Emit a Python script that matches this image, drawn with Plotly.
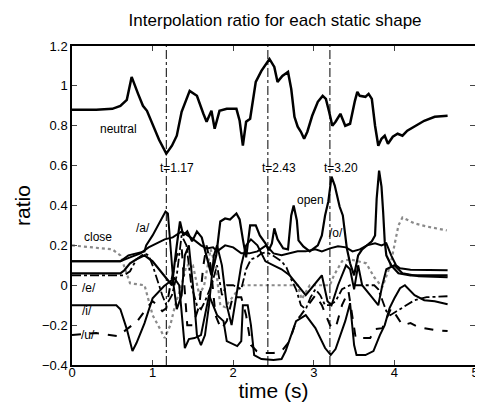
import plotly.graph_objects as go

# ---- data ----
t_neutral = [0, 0.3, 0.5, 0.6, 0.68, 0.74, 0.82, 0.88, 0.93, 1.0, 1.08, 1.17, 1.24, 1.3, 1.36, 1.46, 1.55, 1.63,
             1.67, 1.73, 1.77, 1.83, 1.92, 2.04, 2.08, 2.12, 2.16, 2.21, 2.28, 2.35, 2.45, 2.51, 2.55, 2.61, 2.68,
             2.72, 2.76, 2.8, 2.84, 2.88, 2.92, 2.98, 3.05, 3.11, 3.15, 3.19, 3.23, 3.27, 3.33, 3.39, 3.45, 3.51,
             3.54, 3.57, 3.64, 3.68, 3.72, 3.76, 3.8, 3.84, 3.88, 3.92, 3.98, 4.04, 4.1, 4.16, 4.27, 4.37, 4.5, 4.66]
v_neutral = [0.88, 0.88, 0.885, 0.90, 0.93, 1.045, 0.96, 0.9, 0.875, 0.81, 0.73, 0.66, 0.70, 0.75, 0.87, 0.975, 0.95,
             0.86, 0.82, 0.875, 0.785, 0.875, 0.885, 0.885, 0.825, 0.70, 0.82, 0.835, 1.02, 1.075, 1.135, 1.095,
             1.02, 1.05, 1.07, 0.985, 0.845, 0.795, 0.77, 0.735, 0.77, 0.85, 0.92, 0.95, 0.935, 0.87, 0.80, 0.82,
             0.86, 0.80, 0.81, 0.925, 0.97, 0.95, 0.945, 0.96, 0.935, 0.80, 0.70, 0.735, 0.75, 0.71, 0.745, 0.76,
             0.75, 0.775, 0.80, 0.825, 0.845, 0.85]

t_open = [0, 0.6, 0.65, 0.72, 0.8, 0.9, 1.0, 1.1, 1.24, 1.3, 1.34, 1.38, 1.43, 1.49, 1.55, 1.61, 1.67, 1.73, 1.79,
          1.84, 1.9, 1.96, 2.04, 2.08, 2.12, 2.16, 2.21, 2.28, 2.33, 2.4, 2.44, 2.48, 2.51, 2.55, 2.62, 2.68, 2.72,
          2.75, 2.79, 2.81, 2.87, 2.95, 3.05, 3.1, 3.14, 3.18, 3.22, 3.26, 3.32, 3.36, 3.41, 3.45, 3.5, 3.55, 3.6,
          3.66, 3.72, 3.76, 3.78, 3.81, 3.84, 3.86, 3.88, 3.9, 3.96, 4.05, 4.2, 4.66]
v_open = [0.06, 0.06, 0.075, 0.11, 0.13, 0.15, 0.12, 0.07, 0.0, 0.2, 0.32, 0.25, 0.27, 0.22, 0.27, 0.24, 0.15, 0.05,
          0.15, 0.32, 0.335, 0.33, 0.36, 0.33, 0.23, 0.14, 0.3, 0.3, 0.25, 0.21, 0.175, 0.21, 0.285, 0.23, 0.185,
          0.18, 0.35, 0.40, 0.325, 0.225, 0.195, 0.17, 0.2, 0.25, 0.35, 0.42, 0.545, 0.5, 0.395, 0.35, 0.185, 0.11,
          0.05, 0.15, 0.18, 0.2, 0.22, 0.25, 0.435, 0.575, 0.495, 0.37, 0.22, 0.15, 0.1, 0.06, 0.05, 0.05]

t_close = [0, 0.5, 0.6, 0.68, 0.72, 0.9, 1.0, 1.1, 1.15, 1.22, 1.28, 1.36, 1.42, 1.5, 1.58, 1.64, 1.72, 1.78, 1.84,
           1.9, 2.1, 2.8, 2.85, 2.95, 3.2, 3.25, 3.35, 3.45, 3.55, 3.65, 3.75, 3.85, 3.95, 4.05, 4.1, 4.25, 4.4, 4.65]
v_close = [0.2, 0.18, 0.15, 0.05, 0.01, 0.0, -0.15, -0.225, -0.265, -0.2, -0.1, 0.0, 0.1, 0.1, -0.05, 0.0, 0.18, 0.1,
           -0.1, -0.11, 0.0, 0.0, -0.07, 0.0, 0.0, 0.05, 0.12, 0.13, 0.12, 0.11, 0.04, -0.01, 0.1, 0.3, 0.34, 0.31,
           0.295, 0.275]

t_a = [0, 0.6, 0.7, 0.8, 0.9, 0.92, 1.0, 1.08, 1.16, 1.19, 1.22, 1.26, 1.3, 1.36, 1.4, 1.45, 1.5, 1.55, 1.6, 1.65,
       1.7, 1.76, 1.8, 1.86, 1.92, 1.98, 2.04, 2.1, 2.16, 2.22, 2.3, 2.4, 2.5, 2.6, 2.7, 2.8, 2.9, 3.0, 3.1, 3.17,
       3.22, 3.3, 3.4, 3.45, 3.5, 3.55, 3.6, 3.7, 3.8, 3.85, 3.9, 4.0, 4.1, 4.3, 4.66]
v_a = [0.12, 0.12, 0.15, 0.16, 0.17, 0.2, 0.25, 0.31, 0.37, 0.36, 0.2, 0.0, -0.12, -0.05, 0.15, 0.2, 0.0, -0.25,
       -0.3, -0.25, -0.1, 0.15, 0.2, 0.1, -0.1, -0.2, -0.05, 0.1, 0.2, 0.23, 0.2, 0.12, 0.1, 0.08, 0.05, 0.0, -0.05,
       0.0, 0.05, -0.08, -0.1, 0.0, 0.1, 0.08, -0.02, 0.1, 0.0, -0.05, -0.1, 0.0, 0.08, 0.1, 0.06, 0.045, 0.04]

t_o = [0, 0.6, 0.72, 0.85, 0.95, 1.05, 1.15, 1.25, 1.36, 1.49, 1.6, 1.67, 1.75, 1.8, 1.9, 2.0, 2.1, 2.2, 2.3, 2.41,
       2.5, 2.6, 2.7, 2.8, 2.9, 3.02, 3.1, 3.2, 3.3, 3.4, 3.48, 3.57, 3.66, 3.76, 3.84, 3.9, 3.96, 4.02, 4.07, 4.2,
       4.66]
v_o = [0.12, 0.12, 0.14, 0.16, 0.19, 0.21, 0.23, 0.24, 0.27, 0.235, 0.2, 0.185, 0.19, 0.17, 0.2, 0.19, 0.16, 0.16,
       0.17, 0.2, 0.16, 0.15, 0.16, 0.17, 0.17, 0.18, 0.17, 0.185, 0.195, 0.19, 0.17, 0.18, 0.2, 0.21, 0.2, 0.21,
       0.15, 0.1, 0.085, 0.078, 0.075]

t_e = [0, 0.65, 0.72, 0.8, 0.9, 0.95, 1.0, 1.06, 1.12, 1.17, 1.24, 1.3, 1.36, 1.42, 1.48, 1.55, 1.6, 1.65, 1.73,
       1.8, 1.86, 1.92, 2.0, 2.1, 2.16, 2.22, 2.29, 2.35, 2.41, 2.47, 2.53, 2.6, 2.66, 2.72, 2.78, 2.84, 2.9, 2.96,
       3.02, 3.08, 3.14, 3.2, 3.27, 3.35, 3.45, 3.6, 3.75, 3.8, 3.9, 3.95, 4.07, 4.15, 4.25, 4.4, 4.66]
v_e = [0.05, 0.05, 0.07, 0.13, 0.16, 0.15, 0.1, 0.02, -0.05, -0.1, -0.05, 0.05, 0.25, 0.2, 0.0, -0.1, -0.12, -0.08,
       0.0, 0.1, -0.05, 0.0, 0.0, -0.02, 0.08, 0.13, 0.14, 0.16, 0.165, 0.155, 0.14, 0.12, 0.09, 0.03, -0.02, -0.1,
       -0.12, -0.06, -0.02, -0.05, -0.1, -0.1, -0.08, -0.02, 0.0, 0.0, 0.0, -0.02, -0.13, -0.15, -0.12, -0.1,
       -0.075, -0.06, -0.055]

t_i = [0, 0.55, 0.6, 0.68, 0.75, 0.8, 0.9, 1.0, 1.14, 1.27, 1.33, 1.38, 1.4, 1.45, 1.52, 1.6, 1.65, 1.7, 1.8, 1.88,
       1.92, 2.05, 2.1, 2.12, 2.18, 2.22, 2.26, 2.35, 2.5, 2.6, 2.65, 2.72, 2.78, 2.9, 3.02, 3.14, 3.21, 3.27, 3.39,
       3.45, 3.5, 3.53, 3.64, 3.74, 3.82, 3.88, 3.94, 4.0, 4.07, 4.13, 4.25, 4.37, 4.5, 4.66]
v_i = [-0.1, -0.1, -0.12, -0.22, -0.33, -0.29, -0.19, -0.065, -0.005, 0.035, 0.0, -0.25, -0.315, -0.27, -0.265,
       -0.25, -0.15, -0.05, -0.15, -0.18, -0.28, -0.305, -0.28, -0.1, -0.1, -0.2, -0.35, -0.37, -0.375, -0.37,
       -0.33, -0.25, -0.18, -0.15, -0.215, -0.315, -0.35, -0.32, -0.18, -0.09, -0.3, -0.35, -0.35, -0.33, -0.25,
       -0.2, -0.115, -0.065, -0.015, 0.0, -0.05, -0.075, -0.08, -0.095]

t_u = [0, 0.3, 0.57, 0.65, 0.81, 0.9, 1.0, 1.06, 1.12, 1.17, 1.22, 1.3, 1.36, 1.43, 1.5, 1.58, 1.63, 1.67, 1.72,
       1.78, 1.85, 1.92, 2.0, 2.05, 2.1, 2.16, 2.22, 2.29, 2.35, 2.5, 2.6, 2.7, 2.78, 2.84, 3.02, 3.1, 3.2, 3.27,
       3.35, 3.43, 3.5, 3.52, 3.7, 3.76, 3.85, 3.96, 4.02, 4.1, 4.2, 4.3, 4.5, 4.66]
v_u = [-0.25, -0.24, -0.255, -0.23, -0.18, -0.13, -0.08, -0.1, -0.13, -0.115, 0.0, 0.15, 0.19, -0.2, -0.2, -0.1,
       0.1, 0.2, 0.1, -0.15, -0.22, -0.18, -0.05, -0.06, -0.06, -0.15, -0.3, -0.33, -0.34, -0.34, -0.33, -0.28,
       -0.18, -0.15, -0.05, -0.1, -0.2, -0.215, -0.1, -0.03, -0.2, -0.265, -0.265, -0.22, -0.215, -0.115, -0.15,
       -0.2, -0.19, -0.21, -0.225, -0.23]

marker_times = [1.17, 2.43, 3.20]
marker_labels = ["t=1.17", "t=2.43", "t=3.20"]

x_ticks = [0, 1, 2, 3, 4, 5]
y_ticks = [-0.4, -0.2, 0, 0.2, 0.4, 0.6, 0.8, 1.0, 1.2]
y_ticktext = ["\u22120.4", "\u22120.2", "0", "0.2", "0.4", "0.6", "0.8", "1", "1.2"]

series_labels = [("neutral", 0.58, 0.785), ("open", 2.96, 0.43), ("close", 0.32, 0.24), ("/a/", 0.88, 0.285),
                 ("/o/", 3.28, 0.26), ("/e/", 0.21, -0.015), ("/i/", 0.18, -0.13), ("/u/", 0.20, -0.25)]

# ---- figure ----
fig = go.Figure()

def add(t, v, color="black", width=2.0, dash="solid"):
    fig.add_trace(go.Scatter(x=t, y=v, mode="lines", line=dict(color=color, width=width, dash=dash),
                             showlegend=False, hoverinfo="skip"))

add(t_close, v_close, color="#8a8a8a", width=2.2, dash="dot")
add(t_u, v_u, width=2.0, dash="dash")
add(t_e, v_e, width=1.8, dash="dashdot")
add(t_i, v_i, width=2.0)
add(t_a, v_a, width=2.0)
add(t_o, v_o, width=2.0)
add(t_open, v_open, width=2.2)
add(t_neutral, v_neutral, width=2.5)

for tm in marker_times:
    fig.add_shape(type="line", x0=tm, x1=tm, y0=0, y1=1, xref="x", yref="paper",
                  line=dict(color="black", width=1, dash="dashdot"))

font_txt = dict(family="Liberation Sans, Arial, sans-serif", size=12, color="black")
for tm, lab in zip(marker_times, marker_labels):
    fig.add_annotation(x=tm, y=0.59, text=lab, showarrow=False, xanchor="left", xshift=-8,
                       font=font_txt, bgcolor="rgba(0,0,0,0)")
for lab, x, y in series_labels:
    fig.add_annotation(x=x, y=y, text=lab, showarrow=False, font=font_txt)

fig.update_layout(
    width=483, height=404,
    margin=dict(l=64, r=12, t=38, b=47),
    paper_bgcolor="white", plot_bgcolor="white",
    font=dict(family="Liberation Sans, Arial, sans-serif", color="black"),
    title=dict(text="Interpolation ratio for each static shape", x=0.553, xanchor="center",
               y=0.97, yanchor="middle", font=dict(size=17)),
    xaxis=dict(range=[0, 5], tickvals=x_ticks, ticks="inside", ticklen=5, tickwidth=1,
               showline=True, linecolor="black", linewidth=1.5, mirror="ticks", showgrid=False,
               zeroline=False, tickfont=dict(size=13), ticklabelstandoff=-5,
               title=dict(text="time (s)", font=dict(size=21), standoff=4)),
    yaxis=dict(range=[-0.4, 1.2], tickvals=y_ticks, ticktext=y_ticktext, ticks="inside", ticklen=5,
               tickwidth=1, showline=True, linecolor="black", linewidth=1.5, mirror="ticks",
               showgrid=False, zeroline=False, tickfont=dict(size=13),
               title=dict(text="ratio", font=dict(size=21), standoff=6)),
)

fig.write_html("out.html")
